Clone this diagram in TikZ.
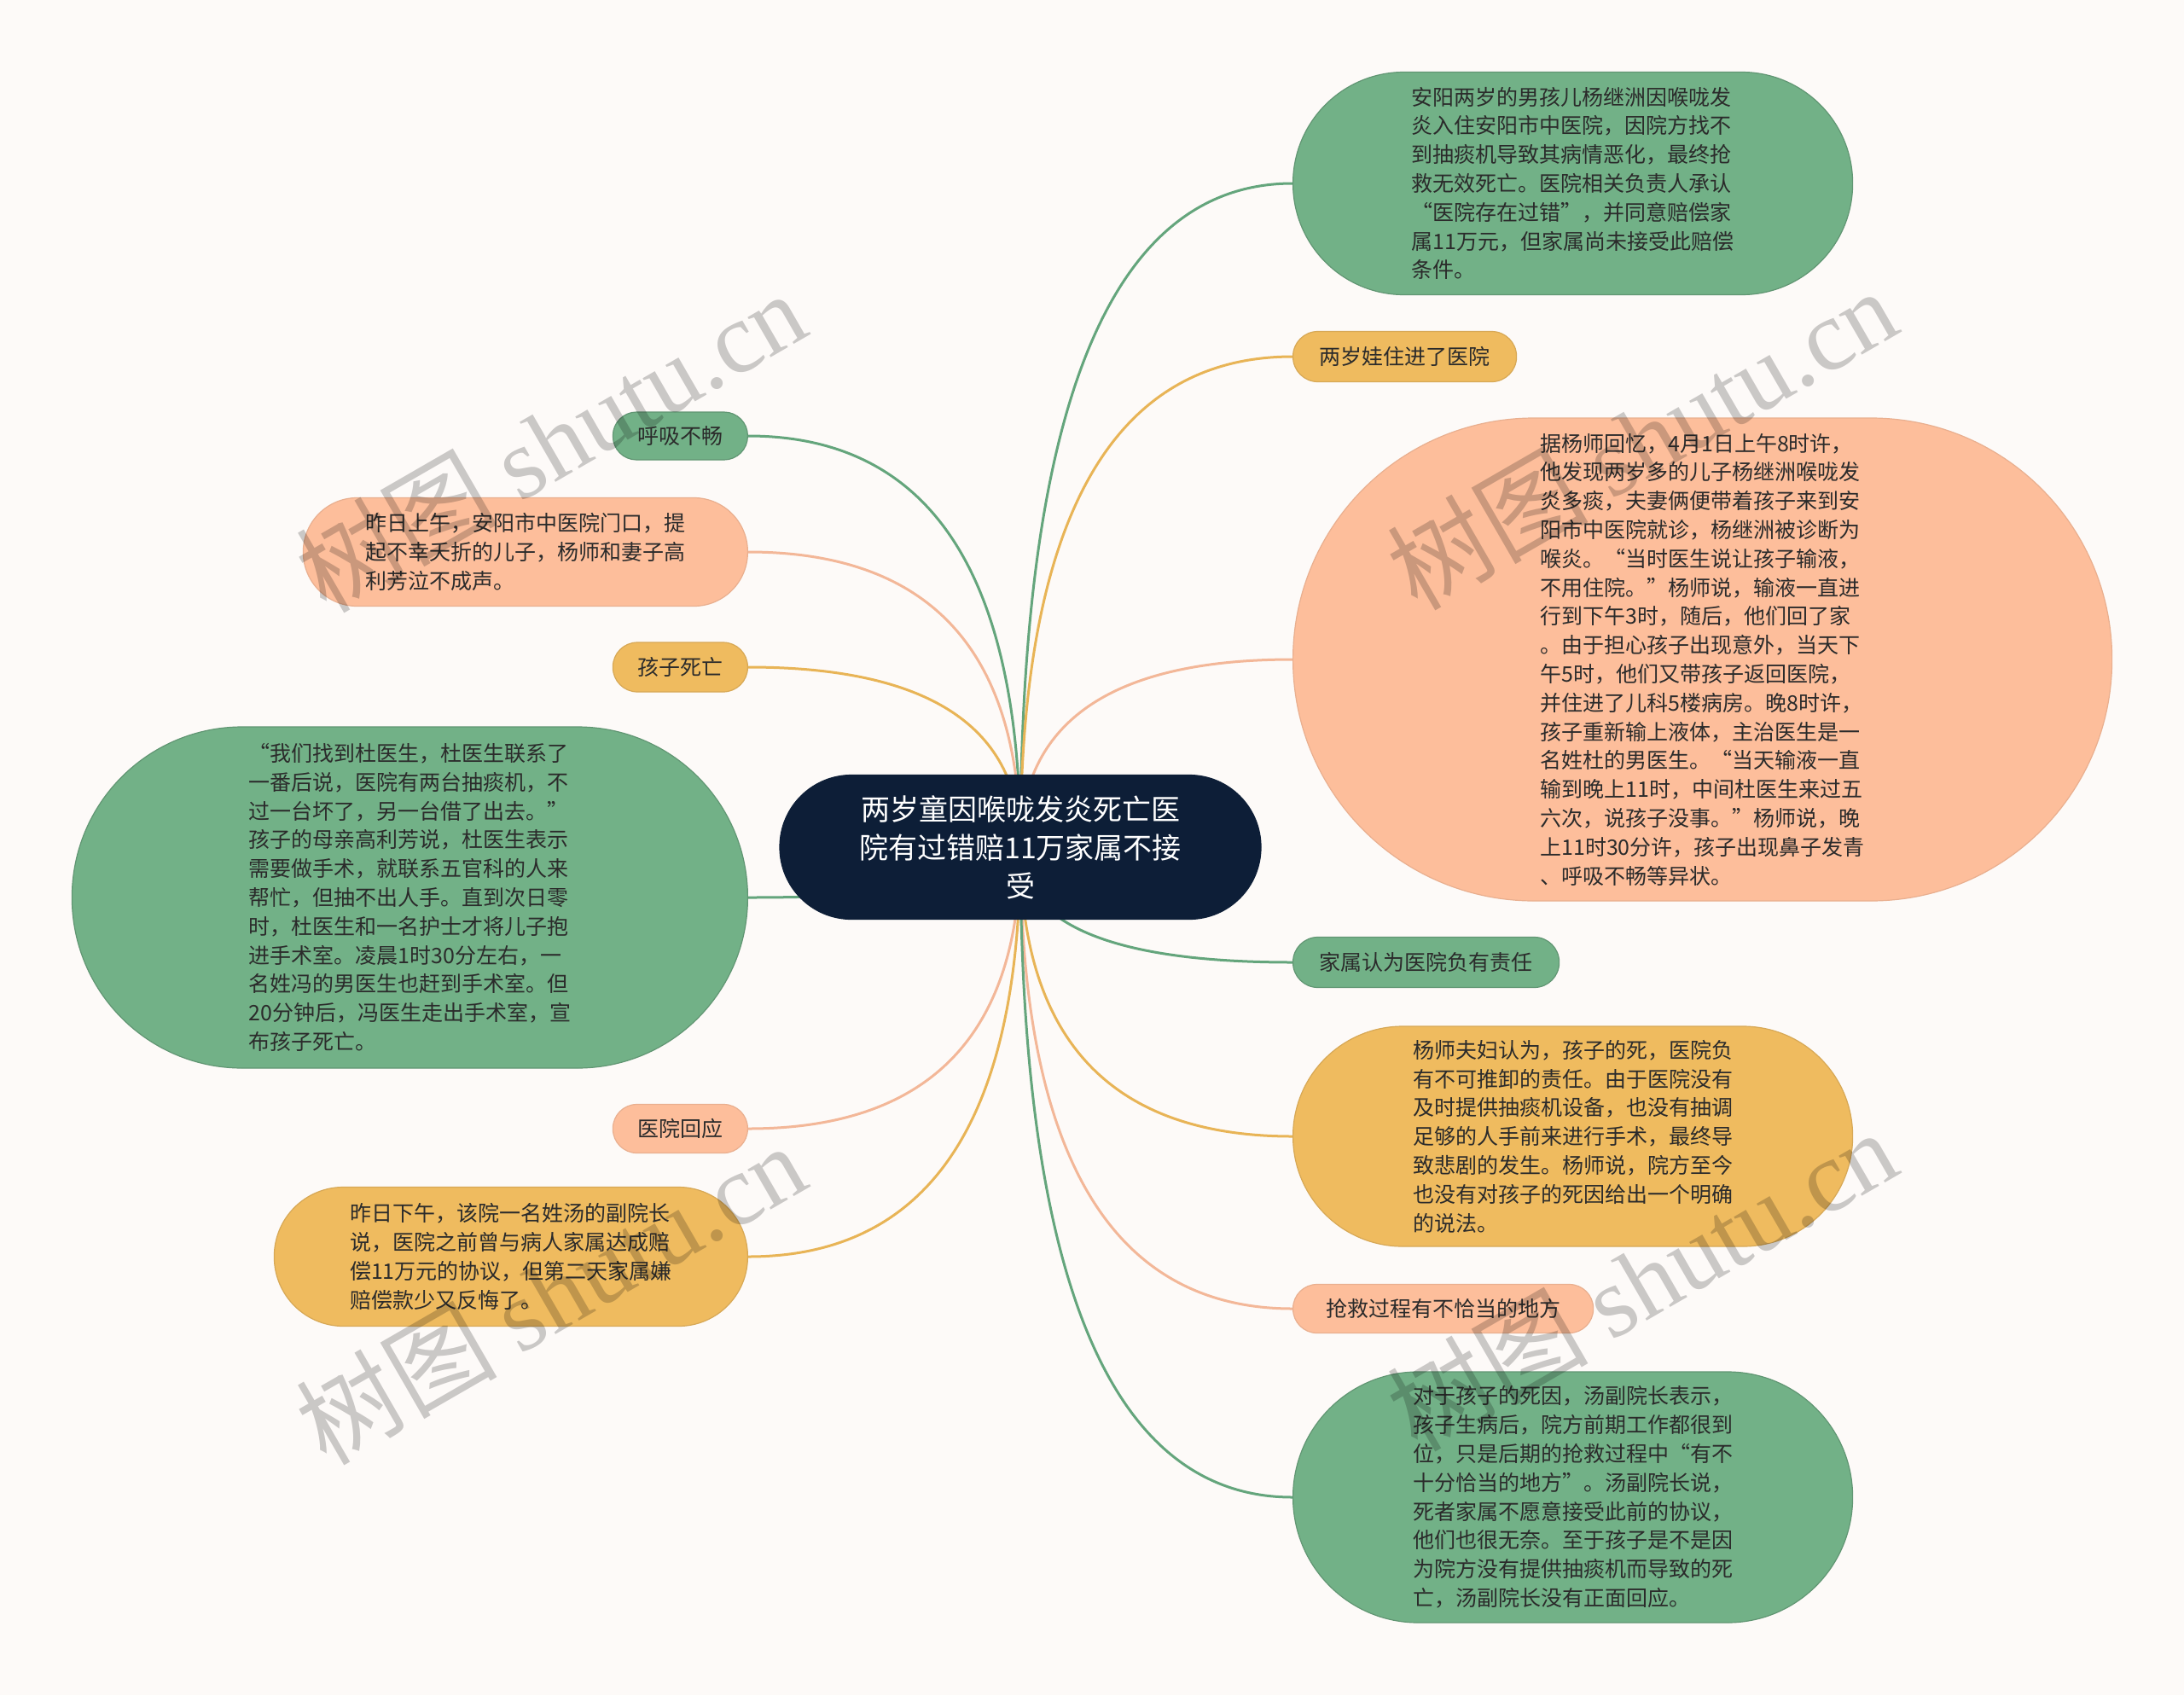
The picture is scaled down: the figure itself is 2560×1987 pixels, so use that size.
\documentclass[tikz,border=0pt]{standalone}
\usepackage{fontspec}
\setmainfont{Noto Sans CJK SC}
\newfontfamily\wmserif{Liberation Serif}
\usetikzlibrary{calc,backgrounds}
\definecolor{bgc}{HTML}{FDFAF8}
\definecolor{gfill}{HTML}{72B187}
\definecolor{yfill}{HTML}{EFBB5F}
\definecolor{pfill}{HTML}{FDBE9B}
\definecolor{navy}{HTML}{0D1E37}
\definecolor{gline}{HTML}{64A57C}
\definecolor{yline}{HTML}{E8B456}
\definecolor{pline}{HTML}{F3B798}
\definecolor{txt}{HTML}{2B2B2B}
\tikzset{
  topic/.style={rectangle, inner sep=0pt, align=left, text=txt,
    font=\fontsize{25}{33.8}\selectfont},
  pill/.style n args={2}{minimum width=#1pt, minimum height=#2pt,
    rounded corners={#2*0.5pt-0.3pt}},
  gbox/.style={topic, fill=gfill, draw=gfill!85!black, line width=1.2pt},
  ybox/.style={topic, fill=yfill, draw=yfill!90!black, line width=1.2pt},
  pbox/.style={topic, fill=pfill, draw=pfill!92!black, line width=1.2pt},
  rootbox/.style={rectangle, inner sep=0pt, align=center, text=white, fill=navy,
    draw=navy, line width=1.2pt, font=\fontsize{34}{45}\selectfont},
  curve/.style={line width=3pt, to path={
    .. controls ($(\tikztostart)!2/3!(\tikztostart |- \tikztotarget)$)
    and ($(\tikztotarget)!2/3!(\tikztostart |- \tikztotarget)$) .. (\tikztotarget)}},
  wmark/.style={text=black, opacity=0.2, rotate=30,
    font=\fontsize{118}{118}\selectfont}
}
\begin{document}
\begin{tikzpicture}[x=1pt,y=-1pt]
\useasboundingbox (0,0) rectangle (2560,1987);

% central topic
\node[rootbox, pill={564}{169}] (C) at (1196,993)
  {两岁童因喉咙发炎死亡医\\院有过错赔11万家属不接\\受};

% right side
\node[gbox, pill={656}{261}, anchor=west] (R1) at (1515,215)
  {安阳两岁的男孩儿杨继洲因喉咙发\\炎入住安阳市中医院，因院方找不\\到抽痰机导致其病情恶化，最终抢\\救无效死亡。医院相关负责人承认\\“医院存在过错”，并同意赔偿家\\属11万元，但家属尚未接受此赔偿\\条件。};
\node[ybox, pill={262}{59}, anchor=west] (R2) at (1515,418) {两岁娃住进了医院};
\node[pbox, pill={960}{566}, anchor=west] (R3) at (1515,773)
  {据杨师回忆，4月1日上午8时许，\\他发现两岁多的儿子杨继洲喉咙发\\炎多痰，夫妻俩便带着孩子来到安\\阳市中医院就诊，杨继洲被诊断为\\喉炎。“当时医生说让孩子输液，\\不用住院。”杨师说，输液一直进\\行到下午3时，随后，他们回了家\\。由于担心孩子出现意外，当天下\\午5时，他们又带孩子返回医院，\\并住进了儿科5楼病房。晚8时许，\\孩子重新输上液体，主治医生是一\\名姓杜的男医生。“当天输液一直\\输到晚上11时，中间杜医生来过五\\六次，说孩子没事。”杨师说，晚\\上11时30分许，孩子出现鼻子发青\\、呼吸不畅等异状。};
\node[gbox, pill={312}{59}, anchor=west] (R4) at (1515,1128) {家属认为医院负有责任};
\node[ybox, pill={656}{258}, anchor=west] (R5) at (1515,1332)
  {杨师夫妇认为，孩子的死，医院负\\有不可推卸的责任。由于医院没有\\及时提供抽痰机设备，也没有抽调\\足够的人手前来进行手术，最终导\\致悲剧的发生。杨师说，院方至今\\也没有对孩子的死因给出一个明确\\的说法。};
\node[pbox, pill={352}{57}, anchor=west] (R6) at (1515,1534) {抢救过程有不恰当的地方};
\node[gbox, pill={656}{294}, anchor=west] (R7) at (1515,1755)
  {对于孩子的死因，汤副院长表示，\\孩子生病后，院方前期工作都很到\\位，只是后期的抢救过程中“有不\\十分恰当的地方”。汤副院长说，\\死者家属不愿意接受此前的协议，\\他们也很无奈。至于孩子是不是因\\为院方没有提供抽痰机而导致的死\\亡，汤副院长没有正面回应。};

% left side
\node[gbox, pill={158}{56}, anchor=east] (L1) at (877,511) {呼吸不畅};
\node[pbox, pill={521}{127}, anchor=east] (L2) at (877,647)
  {昨日上午，安阳市中医院门口，提\\起不幸夭折的儿子，杨师和妻子高\\利芳泣不成声。};
\node[ybox, pill={158}{58}, anchor=east] (L3) at (877,782) {孩子死亡};
\node[gbox, pill={792}{400}, anchor=east] (L4) at (877,1052)
  {“我们找到杜医生，杜医生联系了\\一番后说，医院有两台抽痰机，不\\过一台坏了，另一台借了出去。”\\孩子的母亲高利芳说，杜医生表示\\需要做手术，就联系五官科的人来\\帮忙，但抽不出人手。直到次日零\\时，杜医生和一名护士才将儿子抱\\进手术室。凌晨1时30分左右，一\\名姓冯的男医生也赶到手术室。但\\20分钟后，冯医生走出手术室，宣\\布孩子死亡。};
\node[pbox, pill={158}{57}, anchor=east] (L5) at (877,1323) {医院回应};
\node[ybox, pill={555}{163}, anchor=east] (L6) at (877,1473)
  {昨日下午，该院一名姓汤的副院长\\说，医院之前曾与病人家属达成赔\\偿11万元的协议，但第二天家属嫌\\赔偿款少又反悔了。};

\begin{scope}[on background layer]
  \fill[bgc] (0,0) rectangle (2560,1987);
  \draw[curve, gline] (C.center) to (R1.west);
  \draw[curve, yline] (C.center) to (R2.west);
  \draw[curve, pline] (C.center) to (R3.west);
  \draw[curve, gline] (C.center) to (R4.west);
  \draw[curve, yline] (C.center) to (R5.west);
  \draw[curve, pline] (C.center) to (R6.west);
  \draw[curve, gline] (C.center) to (R7.west);
  \draw[curve, gline] (C.center) to (L1.east);
  \draw[curve, pline] (C.center) to (L2.east);
  \draw[curve, yline] (C.center) to (L3.east);
  \draw[curve, gline] (C.center) to (L4.east);
  \draw[curve, pline] (C.center) to (L5.east);
  \draw[curve, yline] (C.center) to (L6.east);
\end{scope}

% watermarks
\node[wmark] (W1) at (645,517) {树图 {\wmserif shutu.cn}};
\node[wmark] (W2) at (1924,514) {树图 {\wmserif shutu.cn}};
\node[wmark] (W3) at (645,1516) {树图 {\wmserif shutu.cn}};
\node[wmark] (W4) at (1924,1500) {树图 {\wmserif shutu.cn}};
\end{tikzpicture}
\end{document}
